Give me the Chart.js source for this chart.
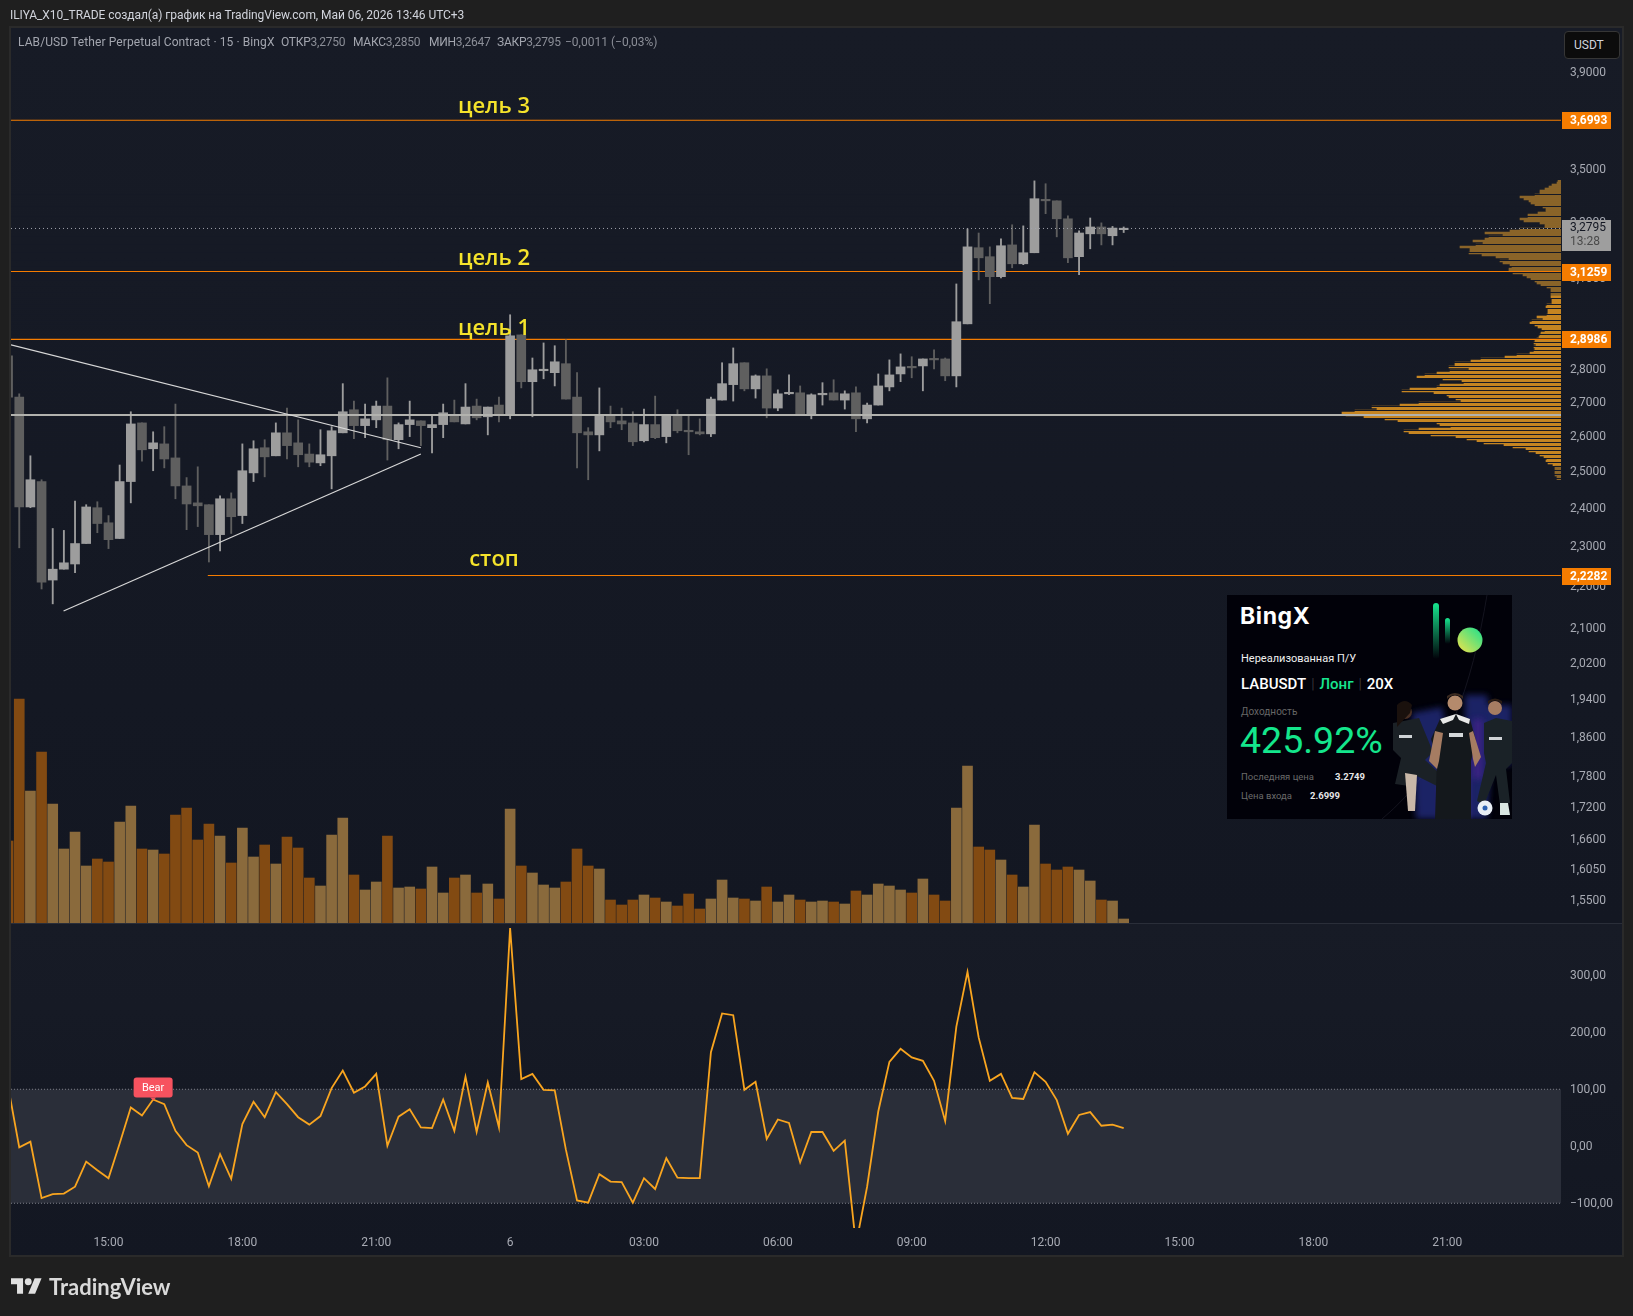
<!DOCTYPE html>
<html lang="ru">
<head>
<meta charset="utf-8">
<title>LAB/USD</title>
<script src="https://cdn.jsdelivr.net/npm/chart.js@4/dist/chart.umd.js"></script>
<style>
  html, body { margin: 0; padding: 0; background: #1f1f1f; }
  body { position: relative; width: 1633px; height: 1316px; overflow: hidden; font-family: Roboto, sans-serif; }
  .abs { position: absolute; white-space: nowrap; }
  canvas { position: absolute; left: 0; top: 0; }
  #frame { left: 9px; top: 26px; width: 1611px; height: 1227px; border: 2px solid #2a2a2a; }
  #pricePane { left: 11px; top: 28px; width: 1611px; height: 895px; background: linear-gradient(#171b26, #131722); }
  #paneSep { left: 11px; top: 923px; width: 1611px; height: 1px; background: #2a2e39; }
  #oscPane { left: 11px; top: 924px; width: 1611px; height: 331px; background: linear-gradient(#171b26, #131722); }
  #header { left: 10px; top: 8px; font-size: 12px; line-height: 15px; color: #d1d4dc; letter-spacing: -0.06px; }
  #title { left: 18px; top: 35px; font-size: 12px; line-height: 15px; color: #a3a6af; }
  #title span { position: absolute; top: 0; letter-spacing: -0.25px; }
  #title i { font-style: normal; color: #8b8e97; }
  #usdt { left: 1564px; top: 31px; width: 54px; height: 26px; background: #0c0c0c; border: 1px solid #363636; border-radius: 4px;
          font-size: 12px; line-height: 26px; color: #d1d4dc; text-indent: 9px; }
  .goal { transform: translateX(-50%); color: #f5e32b; font-family: "Open Sans", sans-serif; font-size: 22px; font-weight: 600; line-height: 26px; }
  #card { left: 1227px; top: 595px; width: 285px; height: 224px; background: #010109; overflow: hidden; }
  #card .t { position: absolute; white-space: nowrap; }
  #logoText { left: 49px; top: 1272px; font-family: Lato, sans-serif; font-size: 22px; line-height: 30px; font-weight: 700; color: #d9d9d9; }
</style>
</head>
<body>
<div class="abs" id="pricePane"></div>
<div class="abs" id="oscPane"></div>
<div class="abs" id="paneSep"></div>
<div class="abs" id="frame"></div>

<canvas id="profileChart" width="1633" height="1316"></canvas>
<canvas id="mainChart" width="1633" height="1316"></canvas>
<canvas id="oscChart" width="1633" height="1316"></canvas>

<div class="abs" id="header">ILIYA_X10_TRADE создал(а) график на TradingView.com, Май 06, 2026 13:46 UTC+3</div>
<div class="abs" id="title"><span style="left:0;letter-spacing:.1px">LAB/USD Tether Perpetual Contract · 15 · BingX</span><span style="left:263px">ОТКР<i>3,2750</i></span><span style="left:335px">МАКС<i>3,2850</i></span><span style="left:411px">МИН<i>3,2647</i></span><span style="left:479px">ЗАКР<i>3,2795</i></span><span style="left:547px;letter-spacing:0"><i>−0,0011 (−0,03%)</i></span></div>
<div class="abs" id="usdt">USDT</div>

<div class="abs goal" style="left:494px;top:91px">цель 3</div>
<div class="abs goal" style="left:494px;top:243px">цель 2</div>
<div class="abs goal" style="left:494px;top:313px">цель 1</div>
<div class="abs goal" style="left:494px;top:544px">стоп</div>

<div class="abs" id="card">
  <svg width="285" height="224" style="position:absolute;left:0;top:0">
    <defs>
      <linearGradient id="gBar" x1="0" y1="0" x2="0" y2="1"><stop offset="0" stop-color="#17e68f"/><stop offset="1" stop-color="#17e68f" stop-opacity="0"/></linearGradient>
      <linearGradient id="gDot" x1="0" y1="1" x2="1" y2="0"><stop offset="0" stop-color="#f2e34a"/><stop offset="1" stop-color="#17e08f"/></linearGradient>
      <filter id="soft"><feGaussianBlur stdDeviation="3"/></filter>
    </defs>
    <path d="M155 224 C220 170 245 90 260 0" fill="none" stroke="#14141f" stroke-width="1"/>
    <rect x="206" y="8" width="6" height="56" rx="3" fill="url(#gBar)"/>
    <rect x="218" y="23" width="5" height="26" rx="2.5" fill="url(#gBar)"/>
    <circle cx="243" cy="45" r="12.5" fill="url(#gDot)"/>
    <!-- игроки -->
    <path d="M185 118 l30 -6 l12 60 l-14 52 l-24 0z M238 100 l22 0 l6 40 l-6 84 l-22 0z M262 110 l23 0 l0 60 l-23 0z" fill="#25308c" opacity=".7" filter="url(#soft)"/>
    <path d="M212 150 h30 v74 h-30z M246 124 h10 v60 h-10z" fill="#4a2390" opacity=".7" filter="url(#soft)"/>
    <path d="M166 128 l26 -5 l14 34 l-8 8 l24 22 l-8 6 l-24 -12 l-8 10 l-14 -2 l6 -26 l-8 -8z" fill="#1b2126"/>
    <path d="M178 178 l3 38 l7 0 l2 -36z" fill="#c9b8a8"/>
    <path d="M212 190 l8 -2 l-2 24 l-7 0z" fill="#c9b8a8"/>
    <circle cx="178" cy="117" r="7" fill="#4a3024"/>
    <path d="M170 110 q8 -8 15 0 l-2 8 l-13 14z" fill="#1a110d"/>
    <rect x="172" y="140" width="13" height="3" fill="#cfd3d6"/>
    <path d="M213 124 l16 -5 l14 5 l6 22 l-5 20 l0 58 l-36 0 l2 -60 l-6 -20z" fill="#14181c"/>
    <path d="M213 124 l16 -5 l-3 6 l-10 4z M243 124 l-14 -5 l3 6 l10 4z" fill="#e8e8e8"/>
    <path d="M208 136 l-6 30 l8 8 l2 -8 l4 -28z M246 136 l8 26 l-6 10 l-2 -8 l-4 -26z" fill="#a67c62"/>
    <circle cx="228" cy="108" r="7.5" fill="#b48a6c"/>
    <path d="M220 104 q8 -8 16 0 l0 -3 q-8 -6 -16 0z" fill="#3a2a20"/>
    <rect x="222" y="138" width="14" height="4" fill="#d4d8da"/>
    <path d="M257 128 l12 -5 l16 3 l0 42 l-6 6 l4 34 l-10 2 l-4 -30 l-12 30 l-7 -4 l9 -38 l-2 -10z" fill="#1a2227"/>
    <circle cx="268" cy="113" r="7" fill="#a67c62"/>
    <path d="M261 109 q7 -7 14 0 l0 -3 q-7 -5 -14 0z" fill="#2a1c14"/>
    <rect x="262" y="142" width="13" height="3" fill="#cfd3d6"/>
    <circle cx="258" cy="213" r="7.5" fill="#e8eef5"/>
    <circle cx="258" cy="213" r="2.5" fill="#2a5fb0"/>
    <path d="M273 208 l8 0 l2 12 l-10 0z" fill="#d9e6e2"/>
  </svg>
  <div class="t" style="left:13px;top:7px;font:700 23px/28px Inter,sans-serif;color:#fff;letter-spacing:.6px">BingX</div>
  <div class="t" style="left:14px;top:57px;font:400 11px/14px Roboto,sans-serif;color:#f0f0f0">Нереализованная П/У</div>
  <div class="t" style="left:14px;top:80px;font:500 15px/18px Roboto,sans-serif;color:#fff">LABUSDT<span style="color:#444;margin:0 5px;font-weight:300">|</span><span style="color:#17e68f">Лонг</span><span style="color:#444;margin:0 5px;font-weight:300">|</span>20X</div>
  <div class="t" style="left:14px;top:110px;font:400 10px/14px Roboto,sans-serif;color:#666">Доходность</div>
  <div class="t" style="left:13px;top:123px;font:400 37.5px/44px Roboto,sans-serif;color:#14e68c">425.92%</div>
  <div class="t" style="left:14px;top:175px;font:400 9.5px/13px Roboto,sans-serif;color:#6a6a6a">Последняя цена</div>
  <div class="t" style="left:108px;top:175px;font:700 9.5px/13px Roboto,sans-serif;color:#e6e6e6">3.2749</div>
  <div class="t" style="left:14px;top:194px;font:400 9.5px/13px Roboto,sans-serif;color:#6a6a6a">Цена входа</div>
  <div class="t" style="left:83px;top:194px;font:700 9.5px/13px Roboto,sans-serif;color:#e6e6e6">2.6999</div>
</div>

<svg class="abs" style="left:11px;top:1278px" width="31" height="16" viewBox="0 4 36 18"><path fill="#e0e0e0" d="M14 22H7V11H0V4h14v18zM28 22h-8l7.5-18h8L28 22z"/><circle fill="#e0e0e0" cx="20" cy="8" r="4"/></svg>
<div class="abs" id="logoText">TradingView</div>

<script>
// --- ДАННЫЕ ---
const opens = [2.846,2.718,2.405,2.474,2.217,2.244,2.257,2.309,2.403,2.363,
  2.322,2.474,2.641,2.566,2.580,2.540,2.462,2.416,2.411,2.332,
  2.427,2.382,2.498,2.569,2.546,2.612,2.583,2.551,2.526,2.546,
  2.612,2.680,2.633,2.650,2.691,2.592,2.636,2.647,2.627,2.636,
  2.665,2.638,2.691,2.659,2.694,2.665,2.913,2.765,2.799,2.793,
  2.821,2.718,2.615,2.606,2.665,2.647,2.641,2.589,2.636,2.601,
  2.665,2.618,2.615,2.609,2.709,2.756,2.824,2.743,2.783,2.685,
  2.728,2.731,2.665,2.725,2.731,2.709,2.731,2.653,2.694,2.749,
  2.789,2.811,2.814,2.836,2.836,2.783,2.949,3.210,3.178,3.108,
  3.220,3.153,3.192,3.386,3.382,3.315,3.178,3.260,3.285,3.253,3.2750];
const closes = [2.718,2.405,2.479,2.212,2.244,2.260,2.309,2.405,2.361,2.319,
  2.474,2.638,2.563,2.583,2.537,2.462,2.413,2.408,2.332,2.427,
  2.379,2.504,2.566,2.543,2.612,2.575,2.549,2.528,2.549,2.618,
  2.674,2.633,2.653,2.691,2.592,2.636,2.650,2.633,2.636,2.671,
  2.644,2.688,2.656,2.688,2.665,2.910,2.765,2.802,2.802,2.827,
  2.712,2.612,2.606,2.665,2.644,2.638,2.586,2.636,2.598,2.665,
  2.618,2.615,2.609,2.712,2.759,2.821,2.743,2.783,2.685,2.728,
  2.731,2.665,2.725,2.728,2.709,2.728,2.653,2.694,2.752,2.786,
  2.811,2.808,2.836,2.833,2.783,2.956,3.213,3.174,3.108,3.217,
  3.153,3.192,3.390,3.382,3.315,3.174,3.263,3.285,3.260,3.281,3.2795];
const highs = [2.851,2.728,2.546,2.479,2.348,2.343,2.421,2.411,2.419,2.382,
  2.520,2.674,2.641,2.615,2.630,2.697,2.485,2.515,2.411,2.435,
  2.443,2.580,2.589,2.592,2.641,2.685,2.650,2.580,2.621,2.630,
  2.759,2.706,2.697,2.706,2.777,2.641,2.706,2.647,2.662,2.697,
  2.709,2.759,2.712,2.688,2.718,2.979,2.913,2.839,2.887,2.878,
  2.897,2.793,2.627,2.746,2.691,2.685,2.674,2.682,2.721,2.665,
  2.680,2.665,2.653,2.718,2.824,2.871,2.824,2.786,2.805,2.740,
  2.786,2.752,2.728,2.762,2.771,2.737,2.749,2.700,2.789,2.833,
  2.852,2.843,2.836,2.865,2.839,3.083,3.278,3.263,3.213,3.242,
  3.293,3.289,3.458,3.447,3.382,3.326,3.271,3.318,3.300,3.287,3.2850];
const lows = [2.706,2.298,2.403,2.195,2.159,2.244,2.235,2.309,2.337,2.296,
  2.322,2.416,2.531,2.504,2.512,2.427,2.345,2.353,2.262,2.290,
  2.335,2.361,2.474,2.487,2.546,2.537,2.515,2.515,2.518,2.454,
  2.612,2.595,2.598,2.627,2.534,2.566,2.601,2.575,2.554,2.598,
  2.644,2.638,2.650,2.606,2.644,2.653,2.746,2.659,2.774,2.752,
  2.712,2.512,2.479,2.560,2.627,2.621,2.575,2.586,2.595,2.583,
  2.612,2.549,2.606,2.601,2.709,2.706,2.737,2.715,2.656,2.677,
  2.725,2.665,2.653,2.694,2.709,2.682,2.615,2.641,2.694,2.737,
  2.765,2.777,2.737,2.805,2.768,2.749,2.949,3.097,3.016,3.104,
  3.139,3.150,3.192,3.334,3.249,3.157,3.115,3.206,3.220,3.220,3.2647];

const volumes = [82,224,132,171,119,74,91,57,64,61,
  101,117,74,73,69,108,115,83,99,87,
  60,95,66,78,59,86,75,45,37,88,
  105,48,33,41,87,35,36,34,56,30,
  45,48,30,39,24,114,57,50,38,35,
  41,74,57,54,23,18,23,28,25,21,
  17,29,14,24,43,25,24,22,36,21,
  28,23,21,22,21,19,32,28,39,37,
  33,30,44,28,22,115,157,76,73,63,
  48,36,98,59,53,56,53,42,23,22,4];

const oscValues = [105,-2,8,-91,-84,-83,-71,-27,-42,-56,
  5,68,54,82,74,27,2,-11,-70,-14,
  -57,39,78,51,95,74,51,38,53,102,
  133,94,105,127,1,52,65,33,32,82,
  27,122,25,112,33,383,118,127,99,98,
  -6,-95,-99,-49,-62,-63,-99,-56,-75,-21,
  -55,-56,-56,165,233,230,99,113,13,47,
  41,-28,25,25,-8,10,-173,-71,61,148,
  171,156,150,115,44,210,306,191,115,127,
  85,83,130,113,81,22,55,60,36,38,32];

// профиль объёма: строки сверху вниз, шкала цен 3,47 .. 2,49
const profileVolumes = [3,4,9,12,16,21,21,26,41,37,32,30,26,18,15,15,23,33,33,41,
  37,21,16,16,41,51,76,58,72,76,88,78,85,101,91,91,92,79,65,52,
  61,58,51,49,52,52,48,38,34,30,26,24,20,14,10,10,10,10,10,9,
  9,9,14,15,13,13,13,14,24,18,29,31,26,23,19,16,20,21,
  22,24,26,27,25,27,26,27,31,44,56,80,90,106,106,112,92,111,124,136,
  144,118,99,97,121,124,151,159,127,114,112,105,100,142,161,189,184,206,219,215,
  197,176,163,124,121,110,142,157,152,130,105,94,84,77,57,48,35,32,25,21,
  17,14,15,13,8,6,6,6,6,6,4,4];
const profileGaps = [7,13,18,24,28,32,36,40,43,46,50,53,56,59,62,64,67,70,72,75];

const priceTicks = [3.9,3.5,3.3,3.1,2.8,2.7,2.6,2.5,2.4,2.3,2.2,2.1,2.02,1.94,1.86,1.78,1.72,1.66,1.605,1.55];
const oscTicks = [300,200,100,0,-100];
const timeTickBars = [9,21,33,45,57,69,81,93,105,117,129];
const timeTickLabels = ['15:00','18:00','21:00','6','03:00','06:00','09:00','12:00','15:00','18:00','21:00'];

const levelTarget3 = 3.6993;
const levelTarget2 = 3.1259;
const levelTarget1 = 2.8986;
const levelStop = 2.2282;
const levelWhite = 2.664;
const lastPrice = 3.2795;
const countdown = '13:28';
const trendUpperBars = [0.26,37];
const trendUpperPrices = [2.881,2.569];
const trendLowerBars = [4.97,37];
const trendLowerPrices = [2.142,2.551];
const stopStartBar = 17.9;
const bearBar = 13;

// --- НАСТРОЙКИ ---
const xMin = 0.26, xMax = 139.2;
const priceMin = 1.5132, priceMax = 4.0998;
const oscMin = -143.4, oscMax = 390;
const ORANGE = '#f57c00';
const UP = '#9d9d9d', DOWN = '#5f5f5f';
const VOL_UP = '#8a6a3c', VOL_DOWN = '#824a12';
const TICK_COLOR = '#a8abb4';

Chart.defaults.font.family = 'Roboto, sans-serif';
Chart.defaults.font.size = 12;
Chart.defaults.animation = false;

const isUp = i => closes[i] >= opens[i];
const fmtComma = (v, d) => v.toFixed(d).replace('.', ',').replace('-', '\u2212');

function hLine(value, color, width, order, from = xMin, dash = []) {
  return {
    type: 'line', xAxisID: 'x', yAxisID: 'yPrice', order,
    data: [{ x: from, y: value }, { x: xMax, y: value }],
    borderColor: color, borderWidth: width, borderDash: dash, pointRadius: 0
  };
}
function trendLine(xs, ys) {
  return {
    type: 'line', xAxisID: 'x', yAxisID: 'yPrice', order: 1,
    data: xs.map((x, i) => ({ x, y: ys[i] })),
    borderColor: '#d8d8d8', borderWidth: 1.2, pointRadius: 0
  };
}

// --- ЦЕНОВЫЕ МЕТКИ СПРАВА ---
const priceTags = {
  id: 'priceTags',
  afterDraw(chart) {
    const { ctx } = chart;
    const y = chart.scales.yPrice;
    ctx.save();
    ctx.textBaseline = 'middle';
    ctx.textAlign = 'left';
    ctx.font = 'bold 12px Roboto, sans-serif';
    [levelTarget3, levelTarget2, levelTarget1, levelStop].forEach(v => {
      const py = Math.round(y.getPixelForValue(v));
      ctx.fillStyle = ORANGE;
      ctx.fillRect(1562, py - 8, 49, 17);
      ctx.fillStyle = '#ffffff';
      ctx.fillText(fmtComma(v, 4), 1570, py + 1);
    });
    const py = Math.round(y.getPixelForValue(lastPrice));
    ctx.fillStyle = '#9e9e9e';
    ctx.fillRect(1562, py - 8, 49, 31);
    ctx.fillStyle = '#131722';
    ctx.font = '12px Roboto, sans-serif';
    ctx.fillText(fmtComma(lastPrice, 4), 1570, py);
    ctx.fillStyle = '#4a4a4a';
    ctx.fillText(countdown, 1570, py + 14);
    ctx.restore();
  }
};

const bearLabel = {
  id: 'bearLabel',
  afterDatasetsDraw(chart) {
    const { ctx } = chart;
    const px = chart.scales.x.getPixelForValue(bearBar);
    const py = chart.scales.yOsc.getPixelForValue(oscValues[bearBar]);
    ctx.save();
    ctx.fillStyle = '#f7525f';
    ctx.beginPath();
    ctx.roundRect(px - 19.5, py - 22, 39, 20, 3);
    ctx.fill();
    ctx.beginPath();
    ctx.moveTo(px - 3, py - 2);
    ctx.lineTo(px + 3, py - 2);
    ctx.lineTo(px, py + 1);
    ctx.fill();
    ctx.fillStyle = '#ffffff';
    ctx.font = '11px Roboto, sans-serif';
    ctx.textAlign = 'center';
    ctx.textBaseline = 'middle';
    ctx.fillText('Bear', px, py - 11);
    ctx.restore();
  }
};

// --- ОСНОВНОЙ ГРАФИК ---
function createMainChart() {
  const idx = opens.map((_, i) => i);
  const candleColors = idx.map(i => (isUp(i) ? UP : DOWN));
  new Chart(document.getElementById('mainChart'), {
    type: 'bar',
    data: {
      datasets: [
        { xAxisID: 'x', yAxisID: 'yVol', order: 6, grouped: false, barThickness: 10,
          data: idx.map(i => ({ x: i, y: volumes[i] })),
          backgroundColor: idx.map(i => (isUp(i) ? VOL_UP : VOL_DOWN)) },
        hLine(levelTarget3, ORANGE, 1.1, 5),
        hLine(levelTarget2, ORANGE, 1.1, 5),
        hLine(levelTarget1, ORANGE, 1.1, 5),
        hLine(levelStop, ORANGE, 1.1, 5, stopStartBar),
        { xAxisID: 'x', yAxisID: 'yPrice', order: 4, grouped: false, barThickness: 1.2,
          data: idx.map(i => ({ x: i, y: [lows[i], highs[i]] })),
          backgroundColor: candleColors },
        { xAxisID: 'x', yAxisID: 'yPrice', order: 3, grouped: false, barThickness: 9, minBarLength: 1.5,
          data: idx.map(i => ({ x: i, y: [opens[i], closes[i]] })),
          backgroundColor: candleColors },
        hLine(levelWhite, '#b2b2ae', 2, 2),
        trendLine(trendUpperBars, trendUpperPrices),
        trendLine(trendLowerBars, trendLowerPrices),
        hLine(lastPrice, '#a0a3ab', 1, 1, xMin, [1, 3])
      ]
    },
    options: {
      responsive: false,
      devicePixelRatio: 1,
      layout: { padding: { left: 11, top: 28, right: 10, bottom: 393 } },
      plugins: { legend: { display: false }, tooltip: { enabled: false } },
      scales: {
        x: { type: 'linear', min: xMin, max: xMax, offset: false, display: false, grid: { display: false } },
        yVol: { type: 'linear', min: 0, max: 895, display: false, grid: { display: false } },
        yPrice: {
          type: 'logarithmic', position: 'right', min: priceMin, max: priceMax,
          afterFit(scale) { scale.width = 62; },
          afterBuildTicks(scale) { scale.ticks = priceTicks.map(value => ({ value })); },
          grid: { display: false, drawTicks: false },
          border: { display: false },
          ticks: { autoSkip: false, color: TICK_COLOR, padding: 9, crossAlign: 'near', callback: v => fmtComma(v, 4) }
        }
      }
    },
    plugins: [priceTags]
  });
}

// --- ПРОФИЛЬ ОБЪЁМА ---
function createProfileChart() {
  new Chart(document.getElementById('profileChart'), {
    type: 'bar',
    data: {
      labels: profileVolumes.map((_, i) => i),
      datasets: [{
        data: profileVolumes,
        barPercentage: 1,
        categoryPercentage: 1,
        backgroundColor: profileVolumes.map((_, i) => (i >= 58 && i <= 142 ? '#c58522' : '#8a6429'))
      }]
    },
    options: {
      indexAxis: 'y',
      responsive: false,
      devicePixelRatio: 1,
      layout: { padding: { left: 11, top: 180, right: 72, bottom: 836 } },
      plugins: { legend: { display: false }, tooltip: { enabled: false } },
      scales: {
        x: { type: 'linear', reverse: true, min: 0, max: 1550, display: false },
        y: {
          type: 'category', offset: true,
          border: { display: false },
          ticks: { display: false, autoSkip: false },
          grid: {
            offset: true, z: 1, drawTicks: false, lineWidth: 1,
            color: ctx => ((ctx.index <= 76 ? profileGaps.includes(ctx.index) : ctx.index % 2 === 1) ? '#151925' : 'transparent')
          }
        }
      }
    }
  });
}

// --- ОСЦИЛЛЯТОР ---
function createOscChart() {
  const bandLine = value => ({
    data: [{ x: xMin, y: value }, { x: xMax, y: value }],
    borderColor: '#7c7f88', borderWidth: 1, borderDash: [1, 2], pointRadius: 0
  });
  new Chart(document.getElementById('oscChart'), {
    type: 'line',
    data: {
      datasets: [
        { ...bandLine(100), xAxisID: 'x', yAxisID: 'yOsc', order: 3, fill: { value: -100 }, backgroundColor: '#2a2e39' },
        { ...bandLine(-100), xAxisID: 'x', yAxisID: 'yOsc', order: 2 },
        { xAxisID: 'x', yAxisID: 'yOsc', order: 1,
          data: oscValues.map((y, x) => ({ x, y })),
          borderColor: '#f9a51f', borderWidth: 1.8, pointRadius: 0, tension: 0 }
      ]
    },
    options: {
      responsive: false,
      devicePixelRatio: 1,
      layout: { padding: { left: 11, top: 924, right: 10, bottom: 61 } },
      plugins: { legend: { display: false }, tooltip: { enabled: false } },
      scales: {
        x: {
          type: 'linear', min: xMin, max: xMax,
          afterFit(scale) { scale.height = 27; },
          afterBuildTicks(scale) { scale.ticks = timeTickBars.map(value => ({ value })); },
          grid: { display: false, drawTicks: false },
          border: { display: false },
          ticks: {
            autoSkip: false, maxRotation: 0, color: TICK_COLOR, padding: 8,
            callback: v => timeTickLabels[timeTickBars.indexOf(v)]
          }
        },
        yOsc: {
          type: 'linear', position: 'right', min: oscMin, max: oscMax,
          afterFit(scale) { scale.width = 62; },
          afterBuildTicks(scale) { scale.ticks = oscTicks.map(value => ({ value })); },
          grid: { display: false, drawTicks: false },
          border: { display: false },
          ticks: { autoSkip: false, color: TICK_COLOR, padding: 9, crossAlign: 'near', labelOffset: 1, callback: v => fmtComma(v, 2) }
        }
      }
    },
    plugins: [bearLabel]
  });
}

createProfileChart();
createMainChart();
createOscChart();
</script>
</body>
</html>
